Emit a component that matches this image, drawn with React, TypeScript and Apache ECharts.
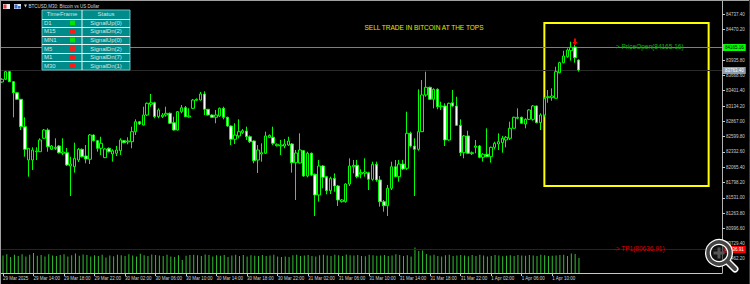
import React, { useEffect, useRef } from "react";
import * as echarts from "echarts";

// ---------- data ----------
const startTime = Date.UTC(2025, 2, 29, 10, 0); // first M30 bar
const slotCount = 189; // bars + right chart shift

const opens = [
  83554, 83601, 83734, 83559, 83367, 83252, 82773, 82191, 82191, 82336,
  82336, 82570, 82715, 82378, 82392, 82436, 82309, 82319, 82087, 82074,
  82191, 82378, 82261, 82204, 82628, 82529, 82396, 82232, 82396, 82296,
  82309, 82354, 82529, 82506, 82511, 82686, 82860, 82803, 82977, 83164,
  83192, 82948, 82948, 82977, 83007, 82843, 82715, 83035, 83105, 82943,
  83094, 83234, 83239, 83344, 83077, 82977, 82937, 82960, 83094, 82937,
  82785, 82553, 82611, 82668, 82698, 82598, 82523, 82191, 82296, 82309,
  82588, 82588, 82441, 82436, 82436, 82453, 82471, 82144, 82139, 82354,
  81912, 82309, 81942, 81580, 82087, 81900, 81655, 81872, 81737, 81463,
  81463, 81772, 82074, 82099, 81947, 81959, 81970, 81854, 82116, 81842,
  81463, 81393, 81697, 82074, 81900, 82121, 82046, 82658, 82436, 82378,
  82686, 83327, 83461, 83252, 83426, 83122, 83135, 82541, 83192, 83135,
  82797, 82319, 82611, 82302, 82413, 82436, 82239, 82291, 82249, 82413,
  82471, 82494, 82541, 82570, 82745, 82920, 82937, 82820, 82902, 82902,
  83135, 82843, 82977, 83280, 83280, 83269, 83716, 83891, 83996, 84101,
  84165.16, 83938,
];
const closes = [
  83601, 83734, 83559, 83367, 83252, 82773, 82378, 82396, 82366, 82349,
  82541, 82715, 82424, 82436, 82413, 82319, 82331, 82104, 82121, 82221,
  82378, 82249, 82209, 82628, 82529, 82396, 82483, 82384, 82336, 82354,
  82366, 82541, 82494, 82523, 82686, 82860, 82820, 82977, 83182, 83192,
  82948, 83065, 82977, 83007, 82833, 82715, 83035, 83105, 82948, 82960,
  83239, 83252, 83344, 83077, 82977, 82937, 82977, 83094, 82937, 82785,
  82553, 82628, 82686, 82703, 82598, 82511, 82179, 82366, 82319, 82611,
  82623, 82483, 82466, 82453, 82471, 82523, 82144, 82313, 82366, 81912,
  82309, 81929, 81580, 82087, 81889, 81655, 81872, 81737, 81493, 81493,
  81772, 82087, 82099, 81900, 81970, 81982, 81854, 82116, 81842, 81463,
  81393, 81697, 82074, 81900, 82121, 82034, 82658, 82436, 82378, 82686,
  83327, 83461, 83252, 83426, 83122, 83135, 82541, 83182, 83135, 82797,
  82319, 82611, 82309, 82319, 82436, 82239, 82291, 82249, 82413, 82483,
  82511, 82570, 82588, 82745, 82937, 82937, 82833, 82902, 83065, 83135,
  82843, 82977, 83269, 83297, 83309, 83734, 83891, 84008, 84113, 84160,
  83978, 83763,
];
const lows = [
  83542, 83589, 83554, 82937, 83239, 82715, 82249, 81900, 82017, 82191,
  82331, 82558, 82336, 82366, 82366, 82305, 82279, 82087, 81563, 81970,
  82156, 82235, 82134, 82121, 82515, 82336, 82279, 82226, 82322, 82162,
  82261, 82279, 82483, 82466, 82396, 82628, 82803, 82794, 82960, 83122,
  82920, 82920, 82925, 82948, 82820, 82707, 82707, 83007, 82943, 82934,
  83082, 83222, 83231, 82977, 82969, 82925, 82833, 82943, 82902, 82773,
  82453, 82471, 82570, 82645, 82541, 82488, 82134, 81964, 82162, 82296,
  82576, 82453, 82427, 82279, 82396, 82436, 81970, 81493, 82130, 81900,
  81889, 81912, 81213, 81463, 81697, 81592, 81597, 81637, 81388, 81449,
  81446, 81737, 81959, 81872, 81872, 81900, 81667, 81830, 81812, 81376,
  81288, 81213, 81667, 81889, 81812, 82017, 82017, 82413, 81563, 82354,
  82680, 83297, 83239, 83094, 83077, 83065, 82436, 82529, 83122, 82785,
  82261, 82221, 82296, 82279, 82309, 82221, 82162, 82239, 82144, 82378,
  82366, 82319, 82413, 82541, 82742, 82902, 82820, 82745, 82890, 82878,
  82833, 82715, 82948, 83192, 83227, 83269, 83706, 83880, 83978, 83926,
  83891, 83734,
];
const highs = [
  83618, 83746, 83746, 83571, 83379, 83257, 82937, 82401, 82413, 82413,
  82570, 82733, 82745, 82453, 82570, 82453, 82570, 82401, 82249, 82494,
  82401, 82392, 82453, 82645, 82637, 82541, 82598, 82396, 82410, 82378,
  82436, 82570, 82541, 82588, 82773, 82902, 82873, 83122, 83196, 83344,
  83210, 83094, 83012, 83122, 83021, 82948, 83047, 83152, 83135, 83094,
  83257, 83266, 83379, 83391, 83082, 82986, 83065, 83108, 83122, 82948,
  82797, 82833, 82902, 82733, 82773, 82620, 82532, 82453, 82483, 82686,
  82637, 82773, 82480, 82541, 82558, 82598, 82488, 82366, 82658, 82366,
  82336, 82322, 81955, 82191, 82104, 81912, 81900, 81958, 81755, 81510,
  81784, 82221, 82191, 82191, 82029, 82221, 81987, 82162, 82162, 81912,
  81493, 81755, 82162, 82191, 82191, 82191, 83035, 82686, 82570, 83426,
  83589, 83734, 83472, 83443, 83443, 83210, 83182, 83192, 83414, 83297,
  82902, 82628, 82703, 82340, 82541, 82453, 82309, 82745, 82424, 82511,
  82658, 82611, 82611, 82860, 82948, 83094, 82948, 82920, 83077, 83152,
  83143, 83007, 83287, 83414, 83443, 83821, 83908, 84101, 84142, 84258,
  84200, 83950,
];
const volumes = [
  1750, 1870, 1600, 1820, 1700, 1880, 1650, 1820, 2000, 1720,
  1800, 1650, 1870, 1760, 1700, 1800, 1880, 1650, 1780, 1950,
  1720, 1850, 1800, 1640, 1780, 1700, 1820, 1560, 1760, 1680,
  1820, 1780, 1700, 1880, 1750, 1640, 1920, 1780, 1700, 1850,
  1800, 1760, 1700, 1820, 1660, 1600, 1780, 1300, 1720, 1800,
  1820, 1780, 1700, 1860, 1800, 1640, 1780, 1720, 1800, 1600,
  1760, 1820, 1700, 1800, 1640, 1780, 1720, 1700, 1800, 1700,
  1760, 1820, 1640, 1600, 1650, 1600, 1780, 1820, 1700, 1750,
  1800, 1700, 1650, 1780, 1820, 1760, 1700, 1820, 1780, 1700,
  1860, 1780, 1740, 1800, 1700, 1680, 1820, 1780, 1720, 1760,
  1800, 1700, 1740, 1880, 1800, 1700, 1780, 1650, 2550, 2200,
  2250, 1900, 1760, 1820, 1700, 1640, 1780, 1820, 1700, 1760,
  1800, 1740, 1680, 1800, 1700, 1820, 1760, 1650, 1700, 1800,
  1750, 1680, 1720, 1780, 1700, 1800, 1760, 1720, 1800, 1740,
  1700, 1820, 1780, 1700, 1720, 1760, 1800, 1820, 1700, 1950,
  1900, 1500,
];

const timeTickIndex = [0, 8, 16, 24, 32, 40, 48, 56, 64, 72, 80, 88, 96, 104, 112, 120, 128, 136, 144];
const timeTickLabels = [
  "29 Mar 2025", "29 Mar 14:00", "29 Mar 18:00", "29 Mar 22:00", "30 Mar 02:00",
  "30 Mar 06:00", "30 Mar 10:00", "30 Mar 14:00", "30 Mar 18:00", "30 Mar 22:00",
  "31 Mar 02:00", "31 Mar 06:00", "31 Mar 10:00", "31 Mar 14:00", "31 Mar 18:00",
  "31 Mar 22:00", "1 Apr 02:00", "1 Apr 06:00", "1 Apr 10:00",
];
// price scale ticks (the one at 84203.00 sits under the open-price box, so it has no visible label)
const priceTicks = [
  80462.2, 80729.4, 80996.6, 81263.8, 81531.0, 81798.2, 82065.4, 82332.6, 82599.8,
  82867.0, 83134.2, 83401.4, 83668.6, 83935.8, 84203.0, 84470.2, 84737.4,
];
const priceLabels = [
  80462.2, 80729.4, 80996.6, 81263.8, 81531.0, 81798.2, 82065.4, 82332.6, 82599.8,
  82867.0, 83134.2, 83401.4, 83668.6, 83935.8, 84470.2, 84737.4,
];
const priceMin = 80217.6;
const priceMax = 84968.6;

const priceOpen = 84165.16;
const bidPrice = 83763.4;
const tp1 = 80636.91;
const signalBar = 150;
const signalPrice = 84252;
const labelBar = 160;
const boxStartBar = 142;
const boxEndBar = 185;
const boxTop = 84584;
const boxBottom = 81737;

const chartTitle = "SELL TRADE IN BITCOIN AT THE TOPS";
const windowTitle = "BTCUSD,M30: Bitcoin vs US Dollar";
const timeframes = ["D1", "M15", "MN1", "M5", "M1", "M30"];
const statuses = ["SignalUp(0)", "SignalDn(2)", "SignalUp(0)", "SignalDn(2)", "SignalDn(7)", "SignalDn(1)"];
const signalIsUp = [true, false, true, false, false, false];

// ---------- helpers ----------
const pad = (n: number) => String(n).padStart(2, "0");
const categories = Array.from({ length: slotCount }, (_, i) => {
  const d = new Date(startTime + i * 30 * 60000);
  return `${d.getUTCFullYear()}.${pad(d.getUTCMonth() + 1)}.${pad(d.getUTCDate())} ${pad(d.getUTCHours())}:${pad(d.getUTCMinutes())}`;
});
const candles = opens.map((o, i) => [o, closes[i], lows[i], highs[i]]);

const FONT = "Liberation Sans, Arial, sans-serif";

// horizontal price line across the chart + price box on the right scale (custom series)
function priceLine(price: number, lineColor: string, boxBg: string, boxText: string, z: number) {
  return {
    type: "custom", xAxisIndex: 0, yAxisIndex: 0, z, silent: true, clip: false,
    data: [[0, price]],
    renderItem: (params: any, api: any) => {
      const cs = params.coordSys;
      const y = Math.round(api.coord([0, api.value(1)])[1]) + 0.5;
      return {
        type: "group",
        children: [
          { type: "line", shape: { x1: cs.x, y1: y, x2: cs.x + cs.width, y2: y }, style: { stroke: lineColor, lineWidth: 1 } },
          {
            type: "text", x: cs.x + cs.width + 1, y,
            style: {
              text: price.toFixed(2), fill: boxText, backgroundColor: boxBg, padding: [1, 2, 1, 2],
              font: `4.5px ${FONT}`, verticalAlign: "middle", align: "left",
            },
          },
        ],
      };
    },
  };
}

function buildTable(): any[] {
  const x = 42, y = 10, w = 88, h = 60, split = 82;
  const rowH = h / 7;
  const els: any[] = [
    { type: "rect", z: 100, shape: { x, y, width: w, height: h }, style: { fill: "#008b8b", stroke: "#6cc0c0", lineWidth: 1 } },
    { type: "line", z: 101, shape: { x1: split, y1: y, x2: split, y2: y + h }, style: { stroke: "#e6f4f4", lineWidth: 1 } },
  ];
  for (let r = 1; r < 7; r++) {
    const yy = Math.round(y + r * rowH) + 0.5;
    els.push({ type: "line", z: 101, shape: { x1: x, y1: yy, x2: x + w, y2: yy }, style: { stroke: "#e6f4f4", lineWidth: 1 } });
  }
  const txt = (t: string, tx: number, ty: number, align: string) => ({
    type: "text", z: 102, x: tx, y: ty,
    style: { text: t, fill: "#cfe6e6", font: `6px ${FONT}`, align, verticalAlign: "middle" },
  });
  els.push(txt("TimeFrame", 62, y + rowH / 2, "center"));
  els.push(txt("Status", 106, y + rowH / 2, "center"));
  timeframes.forEach((tf, i) => {
    const cy = y + rowH * (i + 1.5);
    els.push(txt(tf, 44, cy, "left"));
    els.push({ type: "rect", z: 102, shape: { x: 70, y: cy - 2.3, width: 5, height: 4.6 }, style: { fill: signalIsUp[i] ? "#00e600" : "#ff1a1a" } });
    els.push(txt(statuses[i], 106, cy, "center"));
  });
  return els;
}

export default function App() {
  const ref = useRef<HTMLDivElement>(null);
  useEffect(() => {
    if (!ref.current) return;
    const chart = echarts.init(ref.current, undefined, { renderer: "svg" });
    const option: any = {
      animation: false,
      backgroundColor: "#000000",
      grid: [
        { left: 0, top: 1, width: 722, height: 272 },
        { left: 0, top: 241, width: 722, height: 32 },
      ],
      xAxis: [
        { type: "category", gridIndex: 0, data: categories, show: false, boundaryGap: true },
        {
          type: "category", gridIndex: 1, data: categories, boundaryGap: true,
          axisLine: { show: true, lineStyle: { color: "#c8c8c8", width: 1 } },
          axisTick: {
            show: true, alignWithLabel: true, length: 3,
            interval: (idx: number) => timeTickIndex.includes(idx),
            lineStyle: { color: "#c8c8c8" },
          },
          axisLabel: {
            show: true, margin: 3, align: "left", verticalAlign: "top",
            interval: (idx: number) => timeTickIndex.includes(idx),
            formatter: (_v: string, idx: number) => {
              const k = timeTickIndex.indexOf(idx);
              return k >= 0 ? timeTickLabels[k] : "";
            },
            color: "#d4d4d4", fontSize: 4.5, fontFamily: FONT,
          },
          splitLine: { show: false },
        },
      ],
      yAxis: [
        {
          type: "value", gridIndex: 0, position: "right", min: priceMin, max: priceMax,
          axisLine: { show: true, lineStyle: { color: "#b4b4b4", width: 1 } },
          axisTick: { show: true, inside: false, length: 3, customValues: priceTicks, lineStyle: { color: "#c8c8c8" } },
          axisLabel: {
            show: true, margin: 4, customValues: priceLabels,
            formatter: (v: number) => v.toFixed(2),
            color: "#cccccc", fontSize: 4.5, fontFamily: FONT,
          },
          splitLine: { show: false },
        },
        { type: "value", gridIndex: 1, min: 0, max: 3200, show: false, splitLine: { show: false } },
      ],
      series: [
        {
          type: "bar", xAxisIndex: 1, yAxisIndex: 1, data: volumes, barWidth: 1,
          itemStyle: { color: "#30c030" }, silent: true, z: 1,
        },
        priceLine(tp1, "#7a0000", "#ff0000", "#ffffff", 2),
        priceLine(bidPrice, "#2a2a2a", "#8d9aa9", "#ffffff", 2),
        priceLine(priceOpen, "#00d800", "#00ff00", "#000000", 2),
        {
          type: "candlestick", xAxisIndex: 0, yAxisIndex: 0, data: candles, barWidth: 3, z: 3,
          itemStyle: { color: "#000000", color0: "#ffffff", borderColor: "#00ff00", borderColor0: "#00ff00", borderWidth: 1 },
          markArea: {
            silent: true,
            itemStyle: { color: "rgba(0,0,0,0)", borderColor: "#ffff00", borderWidth: 2 },
            data: [[
              { xAxis: categories[boxStartBar], yAxis: boxTop },
              { xAxis: categories[boxEndBar], yAxis: boxBottom },
            ]],
          },
          markPoint: {
            silent: true, animation: false,
            data: [
              {
                coord: [categories[labelBar], priceOpen], symbol: "circle", symbolSize: 1,
                itemStyle: { color: "rgba(0,0,0,0)" },
                label: { show: true, position: "right", distance: 0, formatter: `-> PriceOpen(${priceOpen.toFixed(2)})`, color: "#10b010", fontSize: 6.5, fontFamily: FONT },
              },
              {
                coord: [categories[labelBar], tp1], symbol: "circle", symbolSize: 1,
                itemStyle: { color: "rgba(0,0,0,0)" },
                label: { show: true, position: "right", distance: 0, formatter: `-> TP1(${tp1.toFixed(2)})`, color: "#d80000", fontSize: 6.5, fontFamily: FONT },
              },
              {
                coord: [categories[signalBar], signalPrice],
                symbol: "path://M3,0 L7,0 L7,5 L10,5 L5,10 L0,5 L3,5 Z", symbolSize: [5, 7],
                itemStyle: { color: "#ff0000" }, label: { show: false },
              },
            ],
          },
        },
      ],
      graphic: [
        { type: "line", z: 100, shape: { x1: 0, y1: 0.5, x2: 750, y2: 0.5 }, style: { stroke: "#a0a0a0", lineWidth: 1 } },
        { type: "line", z: 100, shape: { x1: 0.5, y1: 0, x2: 0.5, y2: 284 }, style: { stroke: "#a0a0a0", lineWidth: 1 } },
        { type: "line", z: 100, shape: { x1: 749.5, y1: 0, x2: 749.5, y2: 284 }, style: { stroke: "#3a3a3a", lineWidth: 1 } },
        // window icons + title
        { type: "rect", z: 100, shape: { x: 3, y: 4, width: 7, height: 5 }, style: { fill: "#e8e8e8" } },
        { type: "rect", z: 101, shape: { x: 3.5, y: 4.5, width: 3, height: 4 }, style: { fill: "#e04040" } },
        { type: "rect", z: 100, shape: { x: 14, y: 4, width: 7, height: 5 }, style: { fill: "#e8e8e8" } },
        { type: "rect", z: 101, shape: { x: 14.5, y: 4.5, width: 3, height: 4 }, style: { fill: "#3a6fc8" } },
        { type: "rect", z: 101, shape: { x: 18, y: 6, width: 2.5, height: 2.5 }, style: { fill: "#3a6fc8" } },
        { type: "polygon", z: 100, shape: { points: [[24, 4.5], [27, 4.5], [25.5, 7.5]] }, style: { fill: "#d0d0d0" } },
        { type: "text", z: 100, x: 28.5, y: 6.2, style: { text: windowTitle, fill: "#d8d8d8", font: `4.5px ${FONT}`, verticalAlign: "middle" } },
        // headline
        { type: "text", z: 100, x: 424, y: 27.5, style: { text: chartTitle, fill: "#e6e600", font: `6.5px ${FONT}`, align: "center", verticalAlign: "middle" } },
        ...buildTable(),
        // zoom (magnifier) overlay
        { type: "line", z: 110, shape: { x1: 727, y1: 261, x2: 735, y2: 269 }, style: { stroke: "#ffffff", lineWidth: 7, lineCap: "round" } },
        { type: "circle", z: 110, shape: { cx: 719, cy: 253, r: 11 }, style: { fill: "rgba(30,30,30,0.55)", stroke: "#ffffff", lineWidth: 6 } },
        { type: "circle", z: 111, shape: { cx: 719, cy: 253, r: 11 }, style: { fill: "none", stroke: "#444444", lineWidth: 3.5 } },
        { type: "line", z: 111, shape: { x1: 727, y1: 261, x2: 735, y2: 269 }, style: { stroke: "#444444", lineWidth: 4, lineCap: "round" } },
        { type: "rect", z: 112, shape: { x: 713.5, y: 251.5, width: 11, height: 3 }, style: { fill: "#555555" } },
        { type: "rect", z: 112, shape: { x: 717.5, y: 247.5, width: 3, height: 11 }, style: { fill: "#555555" } },
      ],
    };
    chart.setOption(option);
    return () => chart.dispose();
  }, []);
  return (
    <div
      ref={ref}
      style={{ position: "fixed", left: 0, top: 0, width: 750, height: 284, background: "#000" }}
    />
  );
}
